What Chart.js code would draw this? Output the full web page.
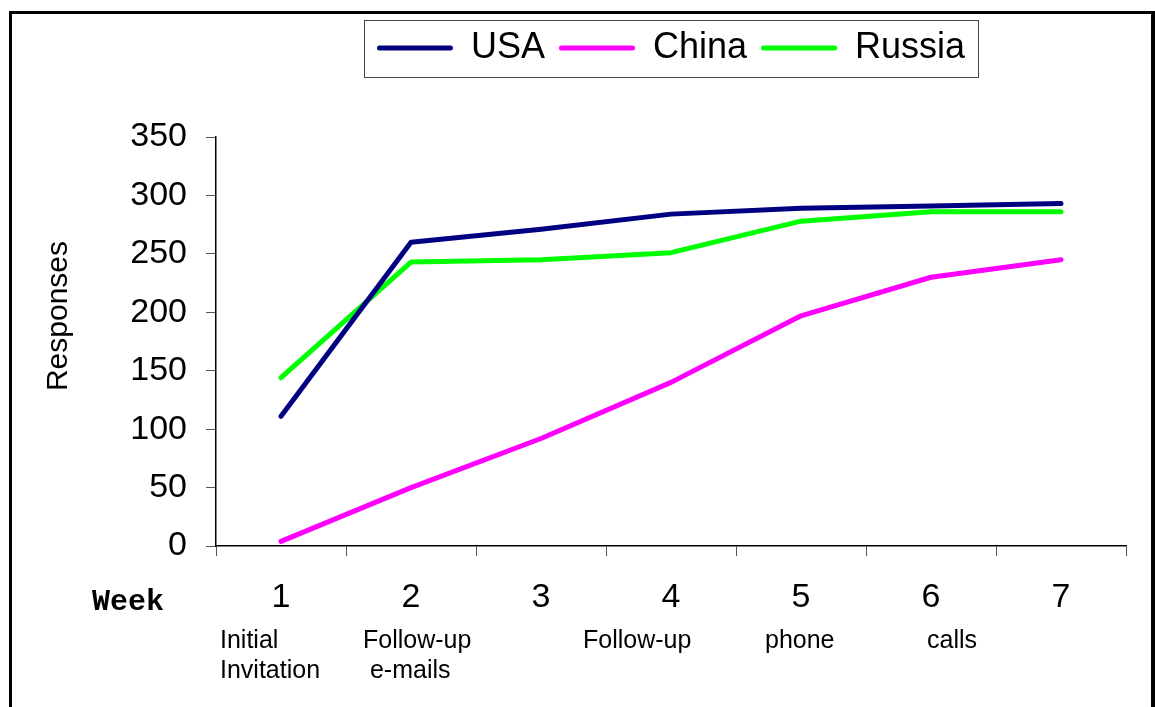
<!DOCTYPE html>
<html>
<head>
<meta charset="utf-8">
<script src="https://cdn.jsdelivr.net/npm/chart.js@4.4.1/dist/chart.umd.min.js"></script>
<style>
  body { margin:0; background:#fff; }
  #frame { position:absolute; left:9px; top:11px; width:1139px; height:800px; border:3px solid #000; border-right-width:4px; }
  #myChart { position:absolute; left:0; top:0; }
</style>
</head>
<body>
<div id="frame"></div>
<canvas id="myChart" width="1155" height="707"></canvas>
<script>
// data
const weeks = ["1", "2", "3", "4", "5", "6", "7"];
const usa = [111, 260, 271, 284, 289, 291, 293];
const china = [4, 50, 92, 140, 197, 230, 245];
const russia = [144, 243, 245, 251, 278, 286, 286];
const yTicks = [0, 50, 100, 150, 200, 250, 300, 350];
const noteLine1 = ["Initial", "Follow-up", "", "Follow-up", "phone", "calls", ""];
const noteLine2 = ["Invitation", " e-mails", "", "", "", "", ""];
const yTitle = "Responses";
const xTitle = "Week";

Chart.defaults.font.family = "'Liberation Sans', Arial, sans-serif";
Chart.defaults.color = "#000";

// legend stays up top but leaves room down to the plot
const legendSpace = {
  id: "legendSpace",
  afterInit(chart) {
    const lg = chart.legend;
    const fit = lg.fit.bind(lg);
    lg.fit = function () { fit(); lg.height = 121; };
  }
};

const extras = {
  id: "extras",
  afterDraw(chart) {
    const ctx = chart.ctx;
    const lg = chart.legend;
    const hb = lg.legendHitBoxes;
    if (hb && hb.length) {
      const last = hb[hb.length - 1];
      ctx.save();
      ctx.strokeStyle = "#444";
      ctx.lineWidth = 1;
      const l = hb[0].left - 13, r = last.left + last.width + 13;
      const t = hb[0].top - 10, b = hb[0].top + hb[0].height + 11;
      ctx.strokeRect(Math.round(l) + 0.5, Math.round(t) + 0.5, Math.round(r - l), Math.round(b - t));
      ctx.restore();
    }
    // y title
    ctx.save();
    ctx.fillStyle = "#000";
    ctx.font = "30px 'Liberation Sans', Arial, sans-serif";
    ctx.translate(67, 316);
    ctx.rotate(-Math.PI / 2);
    ctx.textAlign = "center";
    ctx.textBaseline = "alphabetic";
    ctx.fillText(yTitle, 0, 0);
    ctx.restore();
    // Week
    ctx.save();
    ctx.fillStyle = "#000";
    ctx.font = "bold 30px 'Liberation Mono', 'Courier New', monospace";
    ctx.textBaseline = "alphabetic";
    ctx.fillText(xTitle, 92, 610);
    ctx.restore();
    // notes under the weeks
    const x = chart.scales.x;
    const offs1 = [-61, -48, 0, -88, -36, -4, 0];
    const offs2 = [-61, -48, 0, 0, 0, 0, 0];
    ctx.save();
    ctx.fillStyle = "#000";
    ctx.font = "25px 'Liberation Sans', Arial, sans-serif";
    ctx.textAlign = "left";
    ctx.textBaseline = "alphabetic";
    weeks.forEach((w, i) => {
      const cx = x.getPixelForValue(i);
      if (noteLine1[i]) ctx.fillText(noteLine1[i], cx + offs1[i], 648);
      if (noteLine2[i]) ctx.fillText(noteLine2[i], cx + offs2[i], 678);
    });
    ctx.restore();
  }
};

function line(label, data, color) {
  return {
    label: label,
    data: data,
    borderColor: color,
    backgroundColor: color,
    borderWidth: 5,
    pointRadius: 0,
    tension: 0,
    fill: false,
    borderCapStyle: "round",
    borderJoinStyle: "round"
  };
}

const ctx = document.getElementById("myChart").getContext("2d");
new Chart(ctx, {
  type: "line",
  data: {
    labels: weeks,
    datasets: [
      line("USA", usa, "#000080"),
      line("China", china, "#ff00ff"),
      line("Russia", russia, "#00ff00")
    ]
  },
  options: {
    responsive: false,
    animation: false,
    layout: { padding: { top: 16, right: 29, bottom: 0, left: 0 } },
    plugins: {
      legend: {
        position: "top",
        fullSize: false,
        labels: {
          font: { size: 36 },
          color: "#000",
          boxWidth: 76,
          boxHeight: 5,
          padding: 14,
          useBorderRadius: true,
          borderRadius: 2.5,
          generateLabels(chart) {
            return Chart.defaults.plugins.legend.labels.generateLabels(chart).map(it => {
              it.lineWidth = 0;
              return it;
            });
          }
        }
      },
      tooltip: { enabled: false }
    },
    scales: {
      x: {
        type: "category",
        offset: true,
        afterFit(s) { s.height = 161; },
        grid: { offset: true, drawOnChartArea: false, tickLength: 10, color: "#555", lineWidth: 1 },
        border: { color: "#000", width: 1.5 },
        ticks: { font: { size: 34 }, color: "#000", padding: 21, maxRotation: 0 }
      },
      y: {
        min: 0,
        max: 350,
        afterFit(s) { s.width = 216; },
        afterBuildTicks(s) { s.ticks = yTicks.map(v => ({ value: v })); },
        grid: { drawOnChartArea: false, tickLength: 10, color: "#555", lineWidth: 1 },
        border: { color: "#000", width: 1.5 },
        ticks: { font: { size: 34 }, color: "#000", padding: 19 }
      }
    }
  },
  plugins: [legendSpace, extras]
});
</script>
</body>
</html>
